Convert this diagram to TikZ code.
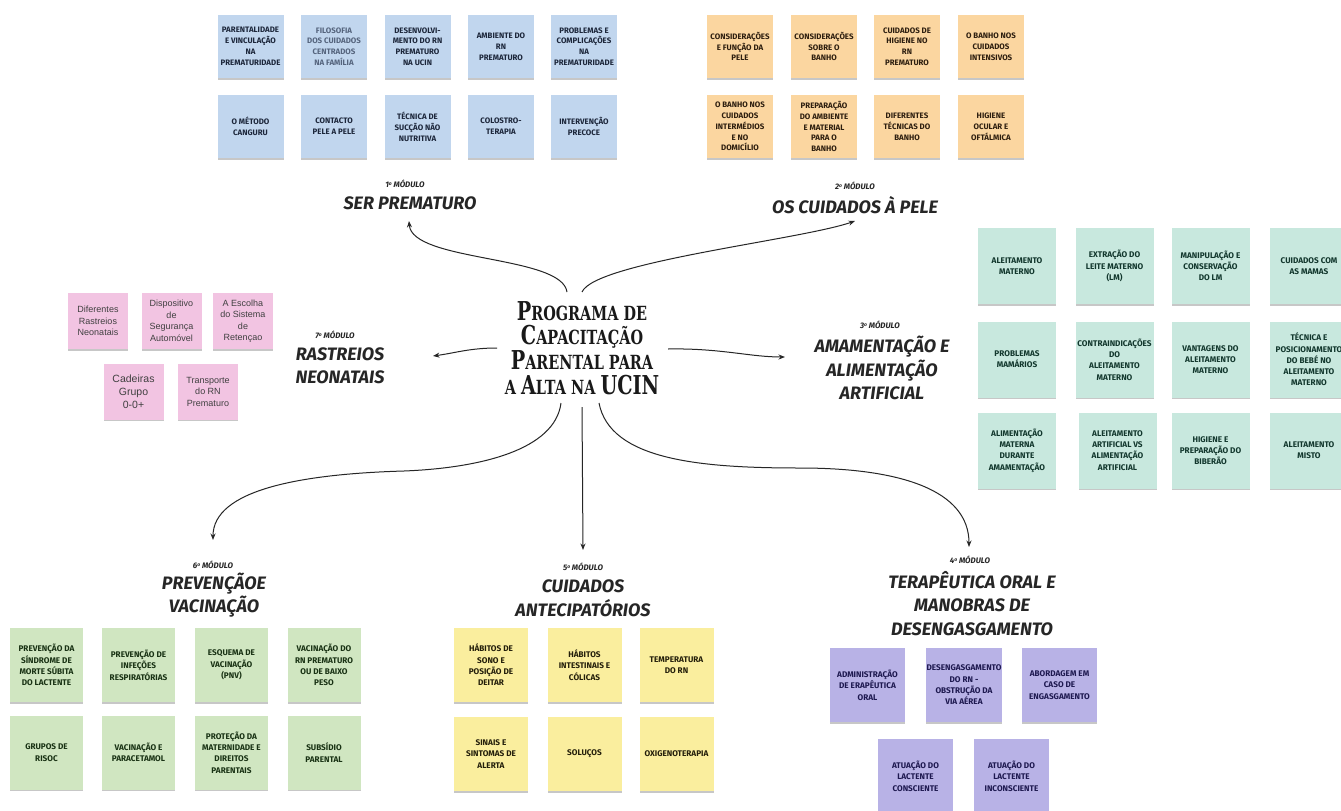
\documentclass[tikz,border=0pt]{standalone}
\usepackage{fontspec}
\usetikzlibrary{arrows.meta,calc,shadows}
\newfontfamily\notefont{Fira Sans}
\newfontfamily\modfont{Fira Sans}
\newfontfamily\ttlfont{DejaVu Serif}
\newfontfamily\pinkfont{Liberation Sans}
\definecolor{cBlue}{RGB}{193,214,238}
\definecolor{cOrange}{RGB}{251,214,160}
\definecolor{cTeal}{RGB}{200,232,222}
\definecolor{cPink}{RGB}{242,196,226}
\definecolor{cGreen}{RGB}{208,230,193}
\definecolor{cYellow}{RGB}{250,238,158}
\definecolor{cPurple}{RGB}{184,178,230}
\definecolor{tBlue}{RGB}{28,38,58}
\definecolor{tBlueL}{RGB}{85,100,125}
\definecolor{tOrange}{RGB}{45,30,15}
\definecolor{tTeal}{RGB}{18,55,45}
\definecolor{tGreen}{RGB}{25,50,20}
\definecolor{tYellow}{RGB}{35,30,10}
\definecolor{tPurple}{RGB}{30,25,80}
\definecolor{ink}{RGB}{38,38,38}
\newcommand\TB[1]{{\fontsize{26}{26}\selectfont #1}}
\newcommand\TS[1]{{\fontsize{19.5}{19.5}\selectfont #1}}
\newcommand\TL[1]{\scalebox{0.74}[1]{#1}}
\newcommand\ordo{{\fontsize{5}{5}\selectfont\raisebox{2.6pt}{o}}}
\tikzset{
  note/.style={rectangle, align=center, inner sep=1pt,
    font=\notefont\bfseries\fontsize{7.9}{10.8}\selectfont,
    drop shadow={shadow xshift=0pt, shadow yshift=-1.6pt, opacity=0.22, fill=black}},
  bl/.style={note, fill=cBlue, text=tBlue, minimum width=66pt, minimum height=63pt},
  orn/.style={note, fill=cOrange, text=tOrange, minimum width=66pt, minimum height=63pt},
  big/.style={font=\notefont\bfseries\fontsize{8.2}{11.3}\selectfont},
  tl/.style={note, big, fill=cTeal, text=tTeal, minimum width=78pt, minimum height=76pt},
  pk/.style={note, fill=cPink, text=black!75, minimum width=60pt, minimum height=56pt,
    font=\pinkfont\fontsize{9}{11.5}\selectfont},
  gr/.style={note, big, fill=cGreen, text=tGreen, minimum width=73pt, minimum height=74pt},
  yl/.style={note, big, fill=cYellow, text=tYellow, minimum width=74pt, minimum height=74pt},
  pu/.style={note, big, fill=cPurple, text=tPurple, minimum width=75pt, minimum height=74pt},
  mlab/.style={inner sep=0pt, text=ink, font=\modfont\bfseries\itshape\fontsize{8}{8}\selectfont},
  mttl/.style={inner sep=0pt, align=center, text=ink, font=\modfont\bfseries\itshape\fontsize{18}{23.5}\selectfont},
  ttl/.style={inner sep=0pt, align=center, text=black!90, font=\ttlfont\bfseries\fontsize{19.5}{24.7}\selectfont},
  arr/.style={draw=ink, line width=1pt, -{Stealth[length=6.5pt,width=5pt]}}
}
\begin{document}
\begin{tikzpicture}[x=1pt,y=-1pt]
\fill[white] (0,0) rectangle (1341,811);
\useasboundingbox (0,0) rectangle (1341,811);

% ---------- centre ----------
\node[ttl] (ctr) at (582,348) {\TL{\TB{P}\TS{ROGRAMA DE}}\\\TL{\TB{C}\TS{APACITAÇÃO}}\\\TL{\TB{P}\TS{ARENTAL PARA}}\\\TL{\TS{A }\TB{A}\TS{LTA NA }\TB{UCIN}}};

% ---------- module titles ----------
\node[mlab] (m1a) at (405,184) {1\ordo{} MÓDULO};
\node[mttl] (m1) at (410,203) {SER PREMATURO};
\node[mlab] (m2a) at (855,186) {2\ordo{} MÓDULO};
\node[mttl] (m2) at (855,205) {OS CUIDADOS À PELE};
\node[mlab] (m3a) at (880,325) {3\ordo{} MÓDULO};
\node[mttl] (m3) at (882,368) {AMAMENTAÇÃO E\\ALIMENTAÇÃO\\ARTIFICIAL};
\node[mlab] (m7a) at (335,335) {7\ordo{} MÓDULO};
\node[mttl] (m7) at (340,366) {RASTREIOS\\NEONATAIS};
\node[mlab] (m6a) at (213,565) {6\ordo{} MÓDULO};
\node[mttl] (m6) at (214,595) {PREVENÇÃOE\\VACINAÇÃO};
\node[mlab] (m5a) at (583,567) {5\ordo{} MÓDULO};
\node[mttl] (m5) at (583,598.5) {CUIDADOS\\ANTECIPATÓRIOS};
\node[mlab] (m4a) at (970,560) {4\ordo{} MÓDULO};
\node[mttl] (m4) at (972,603.5) {TERAPÊUTICA ORAL E\\MANOBRAS DE\\DESENGASGAMENTO};

% ---------- connectors ----------
\draw[arr] ($(ctr.center)+(-15,-56)$) .. controls (562,255) and (412,262) .. ($(m1.center)+(-1,18)$);
\draw[arr] ($(ctr.center)+(0,-56)$) .. controls (595,262) and (800,240) .. ($(m2.center)+(0,16)$);
\draw[arr] ($(ctr.center)+(-85,0)$) .. controls (470,348) and (455,353) .. ($(m7.center)+(93,-10)$);
\draw[arr] ($(ctr.center)+(86,1)$) .. controls (720,348) and (750,357) .. ($(m3.center)+(-97,-11)$);
\draw[arr] ($(ctr.center)+(-21,55)$) .. controls (555,450) and (480,468) .. (404,471) .. controls (300,474) and (213,490) .. ($(m6a.center)+(0,-25)$);
\draw[arr] ($(ctr.center)+(0,59)$) -- ($(m5a.center)+(0,-17)$);
\draw[arr] ($(ctr.center)+(17,55)$) .. controls (610,460) and (700,468) .. (800,468) .. controls (900,468) and (969,490) .. ($(m4a.center)+(-1,-13)$);

% ---------- module 1 (blue) ----------
\node[bl] (b1) at (250.5,46.5) {PARENTALIDADE\\E VINCULAÇÃO\\NA\\PREMATURIDADE};
\node[bl, text=tBlueL] (b2) at (334,46.5) {FILOSOFIA\\DOS CUIDADOS\\CENTRADOS\\NA FAMÍLIA};
\node[bl] (b3) at (417.5,46.5) {DESENVOLVI-\\MENTO DO RN\\PREMATURO\\NA UCIN};
\node[bl] (b4) at (501,46.5) {AMBIENTE DO\\RN\\PREMATURO};
\node[bl] (b5) at (584,46.5) {PROBLEMAS E\\COMPLICAÇÕES\\NA\\PREMATURIDADE};
\node[bl] (b6) at (250.5,126.5) {O MÉTODO\\CANGURU};
\node[bl] (b7) at (334,126.5) {CONTACTO\\PELE A PELE};
\node[bl] (b8) at (417.5,126.5) {TÉCNICA DE\\SUCÇÃO NÃO\\NUTRITIVA};
\node[bl] (b9) at (501,126.5) {COLOSTRO-\\TERAPIA};
\node[bl] (b10) at (584,126.5) {INTERVENÇÃO\\PRECOCE};

% ---------- module 2 (orange) ----------
\node[orn] (o1) at (740,46.5) {CONSIDERAÇÕES\\E FUNÇÃO DA\\PELE};
\node[orn] (o2) at (824,46.5) {CONSIDERAÇÕES\\SOBRE O\\BANHO};
\node[orn] (o3) at (907,46.5) {CUIDADOS DE\\HIGIENE NO\\RN\\PREMATURO};
\node[orn] (o4) at (991,46.5) {O BANHO NOS\\CUIDADOS\\INTENSIVOS};
\node[orn] (o5) at (740,126.5) {O BANHO NOS\\CUIDADOS\\INTERMÉDIOS\\E NO\\DOMICÍLIO};
\node[orn] (o6) at (824,126.5) {PREPARAÇÃO\\DO AMBIENTE\\E MATERIAL\\PARA O\\BANHO};
\node[orn] (o7) at (907,126.5) {DIFERENTES\\TÉCNICAS DO\\BANHO};
\node[orn] (o8) at (991,126.5) {HIGIENE\\OCULAR E\\OFTÁLMICA};

% ---------- module 3 (teal) ----------
\node[tl] (t1) at (1017,266) {ALEITAMENTO\\MATERNO};
\node[tl] (t2) at (1114.5,266) {EXTRAÇÃO DO\\LEITE MATERNO\\(LM)};
\node[tl] (t3) at (1210.5,266) {MANIPULAÇÃO E\\CONSERVAÇÃO\\DO LM};
\node[tl] (t4) at (1309,266) {CUIDADOS COM\\AS MAMAS};
\node[tl] (t5) at (1017,359.5) {PROBLEMAS\\MAMÁRIOS};
\node[tl] (t6) at (1114.5,359.5) {CONTRAINDICAÇÕES\\DO\\ALEITAMENTO\\MATERNO};
\node[tl] (t7) at (1210.5,359.5) {VANTAGENS DO\\ALEITAMENTO\\MATERNO};
\node[tl] (t8) at (1309,359.5) {TÉCNICA E\\POSICIONAMENTO\\DO BEBÉ NO\\ALEITAMENTO\\MATERNO};
\node[tl] (t9) at (1017,450.5) {ALIMENTAÇÃO\\MATERNA\\DURANTE\\AMAMENTAÇÃO};
\node[tl] (t10) at (1117.5,450.5) {ALEITAMENTO\\ARTIFICIAL VS\\ALIMENTAÇÃO\\ARTIFICIAL};
\node[tl] (t11) at (1210.5,450.5) {HIGIENE E\\PREPARAÇÃO DO\\BIBERÃO};
\node[tl] (t12) at (1309,450.5) {ALEITAMENTO\\MISTO};

% ---------- module 7 (pink) ----------
\node[pk] (p1) at (98,321) {Diferentes\\Rastreios\\Neonatais};
\node[pk] (p2) at (171.5,321) {Dispositivo\\de\\Segurança\\Automóvel};
\node[pk] (p3) at (243,321) {A Escolha\\do Sistema\\de\\Retençao};
\node[pk, font=\pinkfont\fontsize{10.5}{13}\selectfont] (p4) at (133.5,391.5) {Cadeiras\\Grupo\\0-0+};
\node[pk] (p5) at (208,391.5) {Transporte\\do RN\\Prematuro};

% ---------- module 6 (green) ----------
\node[gr] (g1) at (46.5,665) {PREVENÇÃO DA\\SÍNDROME DE\\MORTE SÚBITA\\DO LACTENTE};
\node[gr] (g2) at (138.5,665) {PREVENÇÃO DE\\INFEÇÕES\\RESPIRATÓRIAS};
\node[gr] (g3) at (231.5,665) {ESQUEMA DE\\VACINAÇÃO\\(PNV)};
\node[gr] (g4) at (324,665) {VACINAÇÃO DO\\RN PREMATURO\\OU DE BAIXO\\PESO};
\node[gr] (g5) at (46.5,752.5) {GRUPOS DE\\RISOC};
\node[gr] (g6) at (138.5,752.5) {VACINAÇÃO E\\PARACETAMOL};
\node[gr] (g7) at (231.5,752.5) {PROTEÇÃO DA\\MATERNIDADE E\\DIREITOS\\PARENTAIS};
\node[gr] (g8) at (324,752.5) {SUBSÍDIO\\PARENTAL};

% ---------- module 5 (yellow) ----------
\node[yl] (y1) at (491,665) {HÁBITOS DE\\SONO E\\POSIÇÃO DE\\DEITAR};
\node[yl] (y2) at (584.5,665) {HÁBITOS\\INTESTINAIS E\\CÓLICAS};
\node[yl] (y3) at (676.5,665) {TEMPERATURA\\DO RN};
\node[yl] (y4) at (491,754) {SINAIS E\\SINTOMAS DE\\ALERTA};
\node[yl] (y5) at (584.5,754) {SOLUÇOS};
\node[yl] (y6) at (676.5,754) {OXIGENOTERAPIA};

% ---------- module 4 (purple) ----------
\node[pu] (u1) at (867.5,685) {ADMINISTRAÇÃO\\DE ERAPÊUTICA\\ORAL};
\node[pu] (u2) at (964,685) {DESENGASGAMENTO\\DO RN -\\OBSTRUÇÃO DA\\VIA AÉREA};
\node[pu] (u3) at (1059.5,685) {ABORDAGEM EM\\CASO DE\\ENGASGAMENTO};
\node[pu] (u4) at (915.5,776) {ATUAÇÃO DO\\LACTENTE\\CONSCIENTE};
\node[pu] (u5) at (1011.5,776) {ATUAÇÃO DO\\LACTENTE\\INCONSCIENTE};
\end{tikzpicture}
\end{document}
